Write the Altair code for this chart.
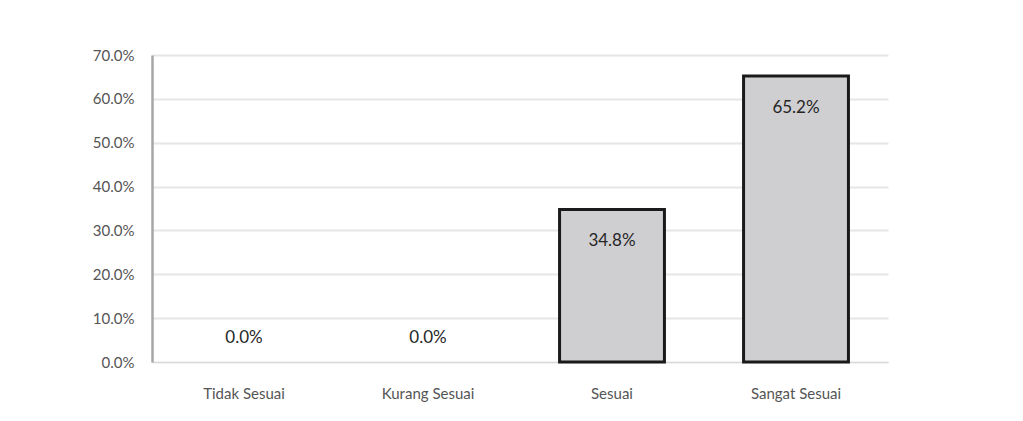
import altair as alt
import pandas as pd

categories = ["Tidak Sesuai", "Kurang Sesuai", "Sesuai", "Sangat Sesuai"]
values = [0.0, 0.0, 0.348, 0.652]

df = pd.DataFrame({"kategori": categories, "nilai": values})

FONT = "Lato"

x = alt.X("kategori:N", sort=categories, title=None,
          scale=alt.Scale(paddingInner=0.43, paddingOuter=0.215),
          axis=alt.Axis(labelAngle=0, labelFont=FONT, labelFontSize=15, labelColor="#555555",
                        ticks=False, domain=True, domainColor="#d9d9d9", domainWidth=1,
                        labelPadding=24))
y = alt.Y("nilai:Q", title=None,
          scale=alt.Scale(domain=[0, 0.7], nice=False),
          axis=alt.Axis(format=".1%", values=[0, 0.1, 0.2, 0.3, 0.4, 0.5, 0.6, 0.7],
                        labelFont=FONT, labelFontSize=15, labelColor="#555555",
                        ticks=False, domain=True, domainColor="#a6a6a6", domainWidth=2.5,
                        gridColor="#e6e6e6", gridWidth=2, labelPadding=18))

base = alt.Chart(df)

bars = base.transform_filter("datum.nilai > 0").mark_bar(
    fill="#cfcfd2", stroke="#1a1a1a", strokeWidth=3).encode(x=x, y=y)

text_pos = base.transform_filter("datum.nilai > 0").mark_text(
    font=FONT, fontSize=17, color="#262626", baseline="middle", dy=32
).encode(x=x, y=y, text=alt.Text("nilai:Q", format=".1%"))

text_zero = base.transform_filter("datum.nilai <= 0").mark_text(
    font=FONT, fontSize=17, color="#262626", baseline="middle", dy=-24
).encode(x=x, y=y, text=alt.Text("nilai:Q", format=".1%"))

chart = alt.layer(bars, text_pos, text_zero).properties(
    width=736, height=307,
    autosize=alt.AutoSizeParams(type="none"),
    padding={"left": 152, "top": 55, "right": 135, "bottom": 59},
    background="white",
).configure_view(stroke=None)

chart.save("out.html", embed_options={"renderer": "svg", "actions": False})
